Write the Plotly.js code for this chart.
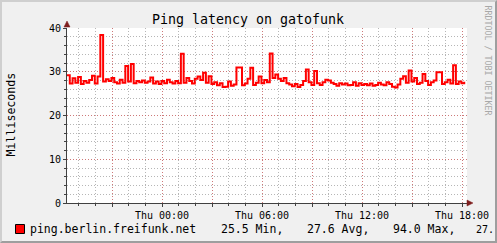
<!DOCTYPE html>
<html><head><meta charset="utf-8">
<script src="https://cdn.plot.ly/plotly-3.0.1.min.js"></script>
<style>
html,body{margin:0;padding:0;background:#f0f0f0;overflow:hidden;}
#chart{width:493px;height:239px;border-style:solid;border-width:2px;border-color:#cfcfcf #9e9e9e #9e9e9e #cfcfcf;}
</style></head><body><div id="chart"></div>
<script>
// ---- data ----
const startTimeUTC = Date.UTC(2014, 0, 1, 18, 18); // Wed 18:18
const stepMinutes = 10;
const latency = [
  29.2, 27.3, 28.5, 27.5, 28.8, 27.2, 27.9, 27.5, 28.1, 29.1,
  27.3, 28.9, 38.4, 27.8, 28.3, 27.9, 28.6, 27.6, 27.3, 28.2,
  27.5, 31.3, 27.8, 31.8, 27.4, 27.9, 27.6, 28.0, 27.5, 27.8,
  28.7, 27.3, 27.8, 27.2, 27.9, 27.4, 28.2, 27.6, 27.3, 27.9,
  27.4, 34.1, 27.5, 28.6, 27.9, 27.3, 28.4, 28.9, 28.1, 29.8,
  27.5, 29.0, 27.2, 27.6, 26.9, 27.4, 26.5, 26.6, 27.8, 26.8,
  27.1, 31.0, 31.0, 26.9, 27.3, 28.4, 30.9, 27.0, 27.5, 28.9,
  27.4, 28.1, 27.6, 34.2, 28.6, 29.4, 28.4, 27.9, 28.6, 27.4,
  27.1, 26.7, 27.2, 26.5, 27.0, 27.9, 30.5, 27.6, 27.0, 30.2,
  27.4, 27.0, 27.6, 28.2, 28.0, 27.5, 27.2, 26.8, 27.4, 27.1,
  27.3, 26.9, 27.0, 27.6, 26.8, 27.4, 27.0, 27.2, 26.9, 27.3,
  26.8, 27.0, 27.5, 27.1, 26.9, 27.6, 27.2, 26.6, 26.4, 27.1,
  28.4, 29.0, 27.5, 30.3, 27.8, 28.6, 27.2, 27.5, 29.5, 27.9,
  27.0, 27.6, 28.0, 29.9, 29.9, 27.2, 27.6, 28.2, 27.3, 31.5,
  27.2, 27.8, 27.4, 27.7
];
const xRange = ['2014-01-01 18:18', '2014-01-02 18:18'];
const tickVals = ['2014-01-01 21:00', '2014-01-02 00:00', '2014-01-02 03:00', '2014-01-02 06:00',
                  '2014-01-02 09:00', '2014-01-02 12:00', '2014-01-02 15:00', '2014-01-02 18:00'];
const tickText = ['', 'Thu 00:00', '', 'Thu 06:00', '', 'Thu 12:00', '', 'Thu 18:00'];
const yTickVals = [0, 10, 20, 30, 40];
const titleText = 'Ping latency on gatofunk';
const yTitle = 'Milliseconds';
const seriesName = 'ping.berlin.freifunk.net';
const statTexts = ['25.5 Min,', '27.6 Avg,', '94.0 Max,', '27.'];
const watermark = 'RRDTOOL / TOBI OETIKER';

// ---- build ----
function fmt(ms){ return new Date(ms).toISOString().slice(0,19).replace('T',' '); }
const times = latency.map((_, i) => fmt(startTimeUTC + i * stepMinutes * 60000));

const FONT = '"DejaVu Sans Mono", "Liberation Mono", monospace';
const L = 67, T = 28, PW = 400, PH = 175; // page px of plot area
const px = X => (X - L) / PW;
const py = Y => (T + PH - Y) / PH;

const majorGrid = 'rgba(222,80,80,0.6)';
const minorGrid = 'rgba(143,143,143,0.65)';
const axisCol = '#404040';
const arrowCol = '#7f1f1f';

const trace = {
  x: times, y: latency, type: 'scatter', mode: 'lines',
  line: {color: '#ff0000', width: 2, shape: 'hv'},
  hoverinfo: 'skip'
};

const statX = [221.7, 307.3, 393.3, 477];
const statSize = [11.5, 11.5, 11.5, 10];
const annotations = [
  {text: yTitle, xref: 'paper', yref: 'paper', x: px(10.5), y: py(115), textangle: -90,
   showarrow: false, xanchor: 'center', yanchor: 'middle', font: {family: FONT, size: 11.6, color: '#000'}},
  {text: watermark, xref: 'paper', yref: 'paper', x: px(487.5), y: py(60), textangle: 90,
   showarrow: false, xanchor: 'center', yanchor: 'middle', font: {family: FONT, size: 8.3, color: '#a8a8a8'}},
  {text: seriesName, xref: 'paper', yref: 'paper', x: px(30), y: py(229), showarrow: false,
   xanchor: 'left', yanchor: 'middle', borderpad: 0, borderwidth: 0, font: {family: FONT, size: 11.5, color: '#000'}}
];
statTexts.forEach((t, i) => annotations.push({
  text: t, xref: 'paper', yref: 'paper', x: px(statX[i] - 0.7), y: py(229), showarrow: false,
  xanchor: 'left', yanchor: 'middle', borderpad: 0, borderwidth: 0, font: {family: FONT, size: statSize[i], color: '#000'}
}));

const shapes = [
  {type: 'rect', xref: 'paper', yref: 'paper', x0: px(15.5), x1: px(24.5), y0: py(233.5), y1: py(224.5),
   fillcolor: '#ff0000', line: {color: '#000', width: 1}},
  {type: 'path', xref: 'paper', yref: 'paper',
   path: `M ${px(67)} ${py(21)} L ${px(64)} ${py(27)} L ${px(70)} ${py(27)} Z`,
   fillcolor: arrowCol, line: {color: arrowCol, width: 0.5}},
  {type: 'path', xref: 'paper', yref: 'paper',
   path: `M ${px(473)} ${py(203)} L ${px(467)} ${py(200)} L ${px(467)} ${py(206)} Z`,
   fillcolor: arrowCol, line: {color: arrowCol, width: 0.5}}
];

const layout = {
  width: 493, height: 239,
  margin: {l: L - 2, t: T - 2, r: 493 - (L - 2) - PW, b: 239 - (T - 2) - PH, pad: 0},
  paper_bgcolor: '#f0f0f0', plot_bgcolor: '#ffffff',
  showlegend: false,
  title: {text: titleText, font: {family: FONT, size: 13.3, color: '#000'},
          xref: 'paper', x: px(248), xanchor: 'center', yref: 'container', y: 1 - (19 - 2) / 239, yanchor: 'middle'},
  xaxis: {
    type: 'date', range: xRange, tickmode: 'array', tickvals: tickVals, ticktext: tickText,
    showgrid: true, gridcolor: majorGrid, griddash: '1px,2px', gridwidth: 1,
    showline: true, linecolor: axisCol, linewidth: 1, zeroline: false,
    ticks: 'outside', ticklen: 3, tickcolor: axisCol,
    tickfont: {family: FONT, size: 10, color: '#000'},
    minor: {dtick: 3600000, tick0: '2014-01-01 00:00', showgrid: true, gridcolor: minorGrid,
            griddash: '1px,2px', gridwidth: 1, ticks: 'outside', ticklen: 2, tickcolor: axisCol},
    fixedrange: true
  },
  yaxis: {
    range: [0, 40], tickmode: 'array', tickvals: yTickVals,
    showgrid: true, gridcolor: majorGrid, griddash: '1px,2px', gridwidth: 1,
    showline: true, linecolor: axisCol, linewidth: 1, zeroline: false,
    ticks: 'outside', ticklen: 3, tickcolor: axisCol,
    tickfont: {family: FONT, size: 10, color: '#000'},
    minor: {dtick: 2, tick0: 0, showgrid: true, gridcolor: minorGrid,
            griddash: '1px,2px', gridwidth: 1, ticks: 'outside', ticklen: 2, tickcolor: axisCol},
    fixedrange: true
  },
  annotations: annotations,
  shapes: shapes
};

Plotly.newPlot('chart', [trace], layout, {staticPlot: true, displayModeBar: false});
</script></body></html>
